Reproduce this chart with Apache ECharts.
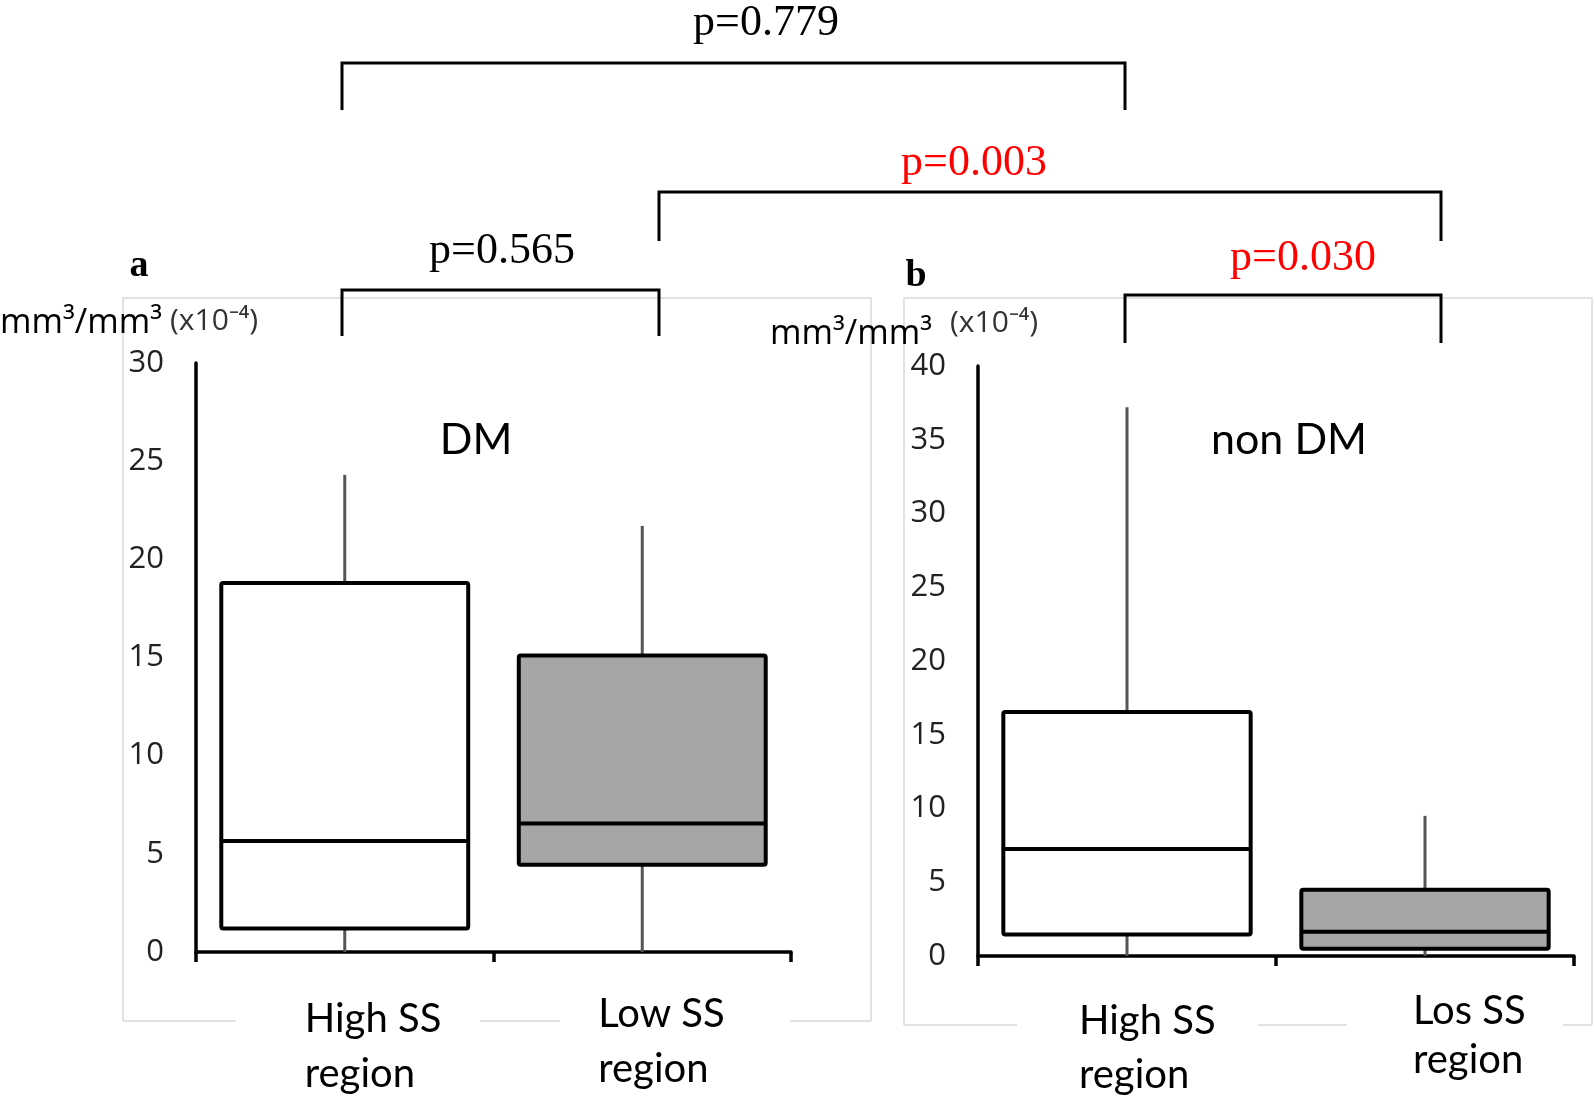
<!DOCTYPE html>
<html><head><meta charset="utf-8">
<script src="https://cdn.jsdelivr.net/npm/echarts@6/dist/echarts.min.js"></script>
<style>html,body{margin:0;padding:0;background:#fff}#c{width:1594px;height:1103px}</style>
</head><body><div id="c"></div>
<script>
// ---------- data ----------
const categoriesA = ['High SS\nregion', 'Low SS\nregion'];
const categoriesB = ['High SS\nregion', 'Los SS\nregion'];
// each box: [min, Q1, median, Q3, max]  (x10^-4 mm3/mm3)
const dmHigh    = [0, 1.2, 5.65, 18.8, 24.3];
const dmLow     = [0, 4.45, 6.55, 15.1, 21.7];
const nonDmHigh = [0, 1.45, 7.25, 16.55, 37.2];
const nonDmLow  = [0, 0.5, 1.65, 4.5, 9.5];
const yMaxA = 30, yMaxB = 40, yStep = 5;
const panelTitles = ['DM', 'non DM'];
const panelLetters = ['a', 'b'];
const unitText = 'mm³/mm³';
const scaleText = '(x10⁻⁴)';
const pTexts = ['p=0.779', 'p=0.003', 'p=0.565', 'p=0.030'];

// ---------- styles ----------
const FILLS = ['#ffffff', '#a6a6a6'];
const tickFont = '"Open Sans", sans-serif';
const labelFont = 'Lato, sans-serif';

function renderBox(params, api) {
  const c = api.value(0);
  const p = i => api.coord([c, api.value(i)]);
  const lo = p(1), q1 = p(2), med = p(3), q3 = p(4), hi = p(5);
  const bw = api.size([1, 0])[0] * 0.83;
  const x = lo[0];
  return {type: 'group', children: [
    {type: 'line', shape: {x1: x, y1: q3[1], x2: x, y2: hi[1]}, style: {stroke: '#555', lineWidth: 3}},
    {type: 'line', shape: {x1: x, y1: q1[1], x2: x, y2: lo[1]}, style: {stroke: '#555', lineWidth: 3}},
    {type: 'rect', shape: {x: x - bw / 2, y: q3[1], width: bw, height: q1[1] - q3[1], r: 2},
      style: {fill: FILLS[params.dataIndex], stroke: '#000', lineWidth: 4, lineJoin: 'round'}},
    {type: 'line', shape: {x1: x - bw / 2, y1: med[1], x2: x + bw / 2, y2: med[1]}, style: {stroke: '#000', lineWidth: 4}}
  ]};
}

function xAxisCfg(cats, idx) {
  return {
    type: 'category', gridIndex: idx, data: cats, boundaryGap: true,
    axisLine: {lineStyle: {color: '#000', width: 3.5}},
    axisTick: {show: true, length: 10, lineStyle: {color: '#000', width: 3.5}},
    axisLabel: {show: false}
  };
}
function yAxisCfg(max, idx) {
  return {
    type: 'value', gridIndex: idx, min: 0, max: max, interval: yStep,
    axisLine: {show: true, lineStyle: {color: '#000', width: 3.5}},
    axisTick: {show: false}, splitLine: {show: false},
    axisLabel: {color: '#222', fontSize: 31, fontFamily: tickFont, margin: 32}
  };
}

const chart = echarts.init(document.getElementById('c'));
chart.setOption({
  backgroundColor: '#fff',
  animation: false,
  grid: [
    {left: 196, top: 363, width: 595, height: 589},
    {left: 978, top: 366, width: 596, height: 590}
  ],
  xAxis: [xAxisCfg(categoriesA, 0), xAxisCfg(categoriesB, 1)],
  yAxis: [yAxisCfg(yMaxA, 0), yAxisCfg(yMaxB, 1)],
  series: [
    {type: 'custom', xAxisIndex: 0, yAxisIndex: 0, renderItem: renderBox, clip: false,
      encode: {x: 0, y: [1, 2, 3, 4, 5]},
      data: [[0].concat(dmHigh), [1].concat(dmLow)]},
    {type: 'custom', xAxisIndex: 1, yAxisIndex: 1, renderItem: renderBox, clip: false,
      encode: {x: 0, y: [1, 2, 3, 4, 5]},
      data: [[0].concat(nonDmHigh), [1].concat(nonDmLow)]}
  ]
});

// ---------- annotations ----------
const G = [];
const frameColor = '#d9d9d9';
function frame(l, t, r, b, segs) {
  G.push({type: 'polyline', z: 0, shape: {points: [[l, b], [l, t], [r, t], [r, b]]},
    style: {stroke: frameColor, lineWidth: 1.5, fill: null}});
  segs.forEach(s => G.push({type: 'line', z: 0, shape: {x1: s[0], y1: b, x2: s[1], y2: b},
    style: {stroke: frameColor, lineWidth: 1.5}}));
}
frame(123, 298, 871, 1021, [[123, 236], [480, 560], [790, 871]]);
frame(904, 298, 1592, 1025, [[904, 1017], [1258, 1347], [1563, 1592]]);

function txt(text, x, y, size, family, opts) {
  G.push({type: 'text', z: 100, x: x, y: y, style: Object.assign({
    text: text, fontSize: size, fontFamily: family, fill: '#000', align: 'center', verticalAlign: 'middle'
  }, opts || {})});
}
function bracket(x1, x2, yTop, yLeg) {
  G.push({type: 'polyline', z: 100, shape: {points: [[x1, yLeg], [x1, yTop], [x2, yTop], [x2, yLeg]]},
    style: {stroke: '#000', lineWidth: 3, fill: null}});
}
const serif = '"Liberation Serif", "Times New Roman", serif';
bracket(342, 1125, 63, 110);
bracket(659, 1441, 192, 241);
bracket(342, 659, 290, 336);
bracket(1125, 1441, 295, 343);
txt(pTexts[0], 766, 23, 44, serif);
txt(pTexts[1], 974, 163, 44, serif, {fill: '#ff0000'});
txt(pTexts[2], 502, 251, 44, serif);
txt(pTexts[3], 1303, 258, 44, serif, {fill: '#ff0000'});

txt(panelLetters[0], 139, 266, 38, serif, {fontWeight: 'bold'});
txt(panelLetters[1], 916, 276, 38, serif, {fontWeight: 'bold'});
txt(unitText, 0, 323, 34, tickFont, {align: 'left'});
txt(scaleText, 170, 321, 30, tickFont, {align: 'left', fill: '#333'});
txt(unitText, 770, 334, 34, tickFont, {align: 'left'});
txt(scaleText, 950, 323, 30, tickFont, {align: 'left', fill: '#333'});
txt(panelTitles[0], 476, 440, 43, labelFont);
txt(panelTitles[1], 1289, 440, 43, labelFont);

// category labels positioned from the library's category scale
const labelDx = [[-40, -44], [-48, -12]];
const labelTop = [[40, 35], [38, 31]];
const labelLH = [[55, 55], [54, 49]];
[categoriesA, categoriesB].forEach((cats, g) => {
  cats.forEach((name, i) => {
    const pt = chart.convertToPixel({xAxisIndex: g, yAxisIndex: g}, [i, 0]);
    G.push({type: 'text', z: 100, x: pt[0] + labelDx[g][i], y: pt[1] + labelTop[g][i], style: {
      text: name, fontSize: 40, fontFamily: labelFont, fill: '#000', align: 'left', verticalAlign: 'top',
      lineHeight: labelLH[g][i]
    }});
  });
});
chart.setOption({graphic: G});
</script></body></html>
